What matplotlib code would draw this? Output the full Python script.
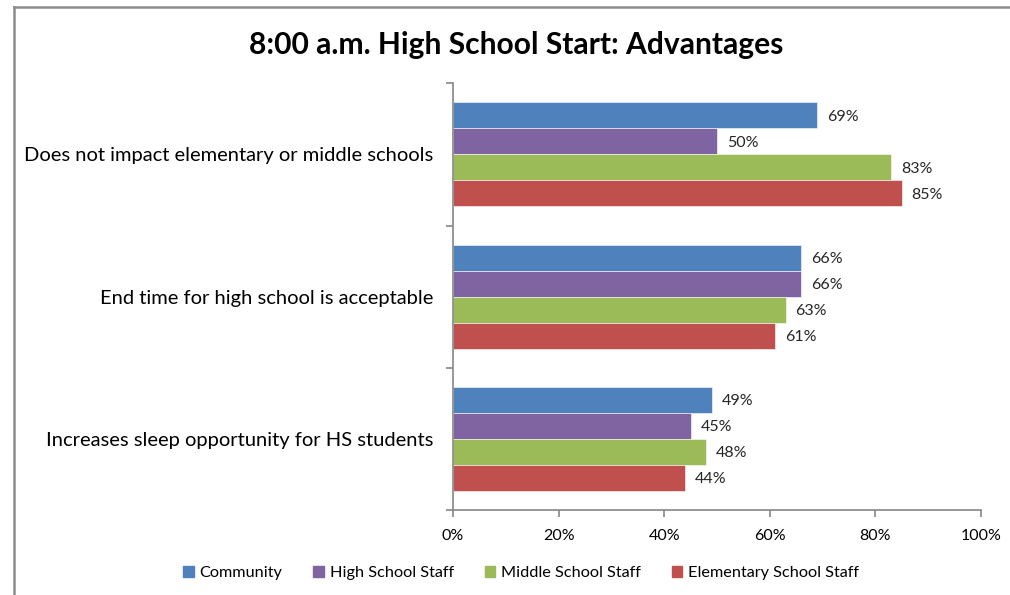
import numpy as np
import matplotlib.pyplot as plt
from matplotlib.lines import Line2D

categories = [
    "Does not impact elementary or middle schools",
    "End time for high school is acceptable",
    "Increases sleep opportunity for HS students",
]
series = ["Community", "High School Staff", "Middle School Staff", "Elementary School Staff"]
community = [69, 66, 49]
hs_staff = [50, 66, 45]
ms_staff = [83, 63, 48]
es_staff = [85, 61, 44]
values = [community, hs_staff, ms_staff, es_staff]
colors = ["#4F81BD", "#8064A2", "#9BBB59", "#C0504D"]
xticks = [0, 20, 40, 60, 80, 100]

plt.rcParams["font.family"] = ["Lato", "DejaVu Sans"]

fig = plt.figure(figsize=(10.1, 5.95), dpi=100)
ax = fig.add_axes([0.4485, 0.1429, 0.5228, 0.7171])

n_cat = len(categories)
bar_h = 0.183
# first category at the top, first series at the top of each group
centers = np.arange(n_cat)[::-1] + 0.5
for i, (name, vals, col) in enumerate(zip(series, values, colors)):
    y = centers + (1.5 - i) * bar_h
    ax.barh(y, vals, height=bar_h, color=col, label=name,
            edgecolor="white", linewidth=0.4)
    for yy, v in zip(y, vals):
        ax.annotate(f"{v}%", (v, yy), xytext=(7, -1), textcoords="offset points",
                    va="center", ha="left", fontsize=11.5, color="#262626")

ax.set_xlim(0, 100)
ax.set_ylim(0, n_cat)
ax.set_xticks(xticks)
ax.set_xticklabels([f"{t}%" for t in xticks], fontsize=11.5)
ax.set_yticks(centers)
ax.set_yticklabels(categories, fontsize=14.5)
ax.set_yticks(np.arange(n_cat + 1), minor=True)
ax.tick_params(axis="y", which="major", length=0, pad=14)
ax.tick_params(axis="y", which="minor", length=5, color="#868686", width=1.2)
ax.tick_params(axis="x", length=5, color="#868686", width=1.2, pad=9)

for side in ["top", "right"]:
    ax.spines[side].set_visible(False)
for side in ["left", "bottom"]:
    ax.spines[side].set_color("#868686")
    ax.spines[side].set_linewidth(1.2)

fig.text(0.511, 0.925, "8:00 a.m. High School Start: Advantages",
         ha="center", va="center", fontsize=21.6, fontweight="bold")

handles = [plt.Rectangle((0, 0), 1, 1, color=c) for c in colors]
fig.legend(handles, series, loc="center", bbox_to_anchor=(0.516, 0.037), ncol=4,
           frameon=False, fontsize=11.7, handlelength=0.65, handleheight=0.65,
           handletextpad=0.35, columnspacing=1.9)

# outer chart frame
fig.add_artist(Line2D([14 / 1010, 1], [1 - 7 / 595, 1 - 7 / 595],
                      transform=fig.transFigure, color="#8c8c8c", linewidth=1.8))
fig.add_artist(Line2D([14 / 1010, 14 / 1010], [0, 1 - 7 / 595],
                      transform=fig.transFigure, color="#8c8c8c", linewidth=1.8))

fig.savefig("out.png", dpi=100)
